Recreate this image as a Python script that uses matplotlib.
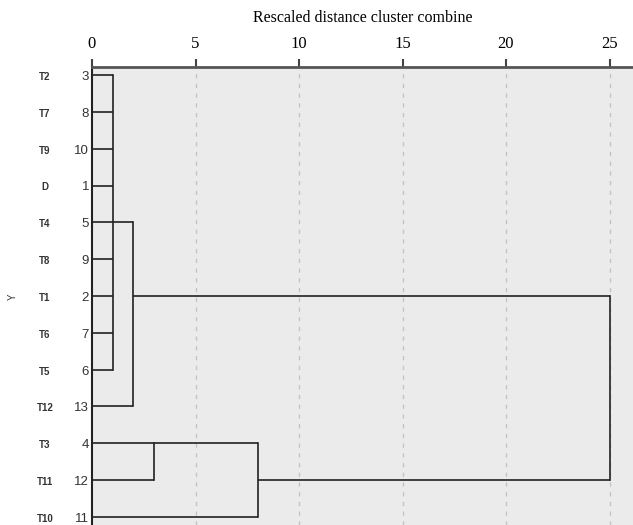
import numpy as np
import matplotlib
matplotlib.use("Agg")
import matplotlib.pyplot as plt

# leaf order as displayed (top to bottom)
labels = ['T2', 'T7', 'T9', 'D', 'T4', 'T8', 'T1', 'T6', 'T5', 'T12', 'T3', 'T11', 'T10']
case_ids = [3, 8, 10, 1, 5, 9, 2, 7, 6, 13, 4, 12, 11]

# agglomeration steps: members (leaf index or 'c<k>' for earlier cluster), rescaled distance
merge_members = [
    [0, 1, 2, 3, 4, 5, 6, 7, 8],
    ['c0', 9],
    [10, 11],
    ['c2', 12],
    ['c1', 'c3'],
]
merge_dist = [1.0, 2.0, 3.0, 8.0, 25.0]

xticks = [0, 5, 10, 15, 20, 25]
title = 'Rescaled distance cluster combine'

W, H = 633, 525
fig = plt.figure(figsize=(W / 100, H / 100), dpi=100)
ax = fig.add_axes([92 / W, 0, 1 - 92 / W, 1 - 67 / H])
ax.set_facecolor('#ebebeb')

ax.set_xlim(0, (W - 92) / 20.7)
row_h = 36.83
ax.set_ylim(12 + (525 - 517) / row_h, 0 - (75 - 67) / row_h)

lc = '#222222'
lw = 1.2

for x in xticks[1:]:
    ax.axvline(x, color='#c4c4c4', lw=1.0, ls=(0, (3, 4)), zorder=1)

# draw dendrogram, SPSS style
pos = {}    # cluster -> (row, x)
for k, (mem, d) in enumerate(zip(merge_members, merge_dist)):
    rows = []
    for m in mem:
        if isinstance(m, str):
            r, x0 = pos[m]
        else:
            r, x0 = m, 0.0
        ax.plot([x0, d], [r, r], color=lc, lw=lw, solid_capstyle='butt', zorder=3)
        rows.append(r)
    ax.plot([d, d], [min(rows), max(rows)], color=lc, lw=lw, zorder=3)
    pos['c%d' % k] = (int(np.floor((min(rows) + max(rows)) / 2)), d)

ax.xaxis.tick_top()
ax.set_xticks(xticks)
ax.set_xticklabels([str(t) for t in xticks], fontfamily='Liberation Serif', fontsize=12)
ax.tick_params(axis='x', length=6, width=1.5, color='#444444', pad=5)
ax.set_yticks([])
ax.xaxis.set_label_position('top')
ax.set_xlabel(title, fontfamily='Liberation Serif', fontsize=11.5, labelpad=10)

for s in ['right', 'bottom']:
    ax.spines[s].set_visible(False)
ax.spines['top'].set_linewidth(2.0)
ax.spines['top'].set_color('#555555')
ax.spines['left'].set_linewidth(1.5)
ax.spines['left'].set_color('#222222')

for i, (lab, cid) in enumerate(zip(labels, case_ids)):
    ax.text(-47 / 20.7, i + 0.05, lab, ha='center', va='center', fontsize=7,
            fontfamily='Liberation Sans', fontweight='bold', color='#333333', clip_on=False)
    ax.text(-3 / 20.7, i + 0.05, str(cid), ha='right', va='center', fontsize=9.5,
            fontfamily='Liberation Sans', color='#333333', clip_on=False)

fig.text(13 / W, 1 - 297 / H, 'Y', rotation=90, ha='center', va='center',
         fontsize=7, fontfamily='Liberation Sans', color='#333333')

fig.savefig('out.png', dpi=100)
